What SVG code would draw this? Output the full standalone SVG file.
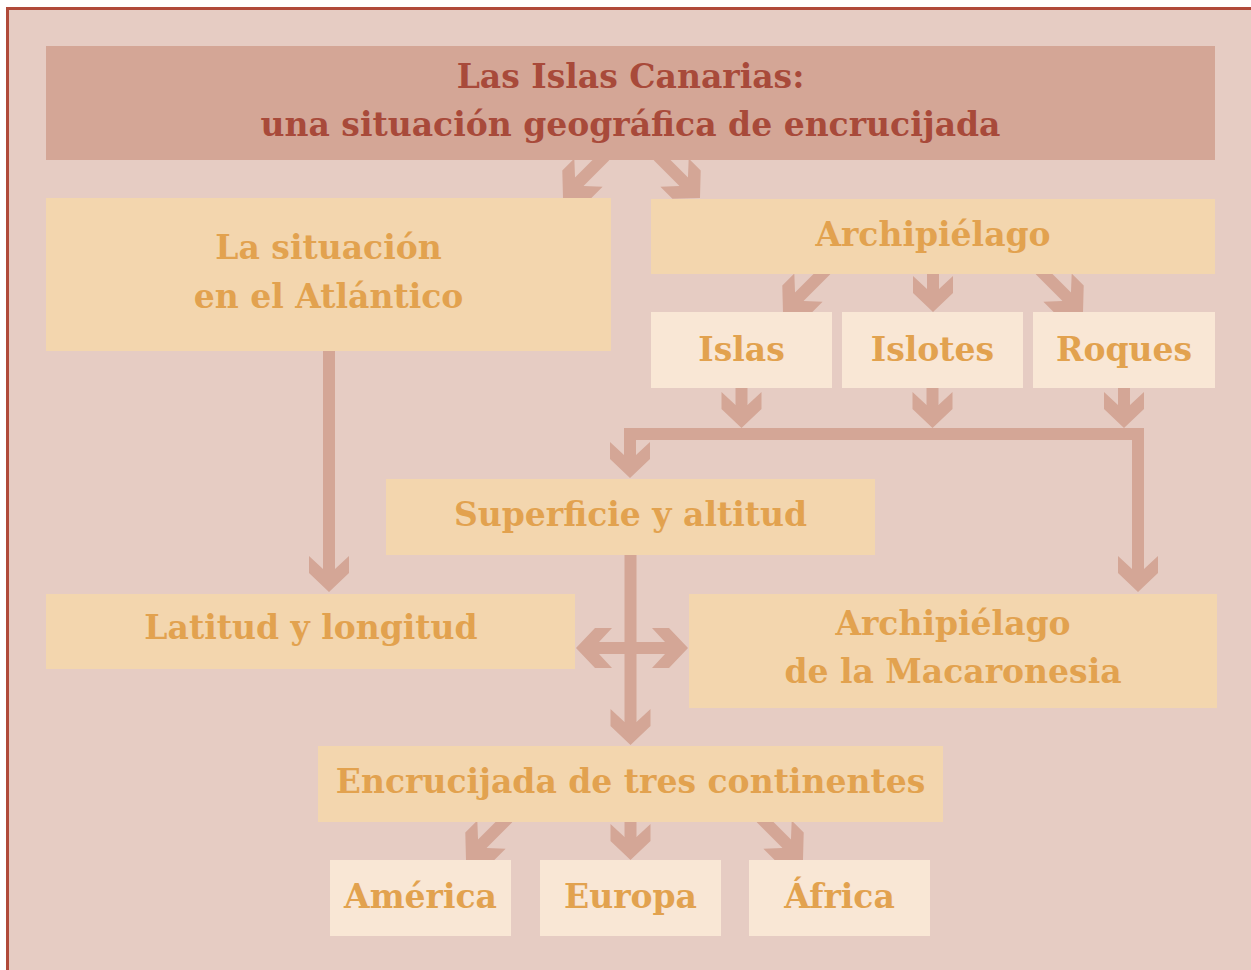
<svg xmlns="http://www.w3.org/2000/svg" xmlns:xlink="http://www.w3.org/1999/xlink" width="1251" height="970" viewBox="0 0 1251 970">
<style>
.bg{fill:#E6CCC3;stroke:#B04A3A;stroke-width:3}
.title{fill:#D4A696}
.box{fill:#F3D6AE}
.lbox{fill:#F9E7D5}
.t{font-family:"DejaVu Serif",serif;font-weight:bold;font-size:33px;text-anchor:middle}
.tt{fill:#A84A3A}
.to{fill:#E2A24F}
.sh{stroke:#D4A696;stroke-width:12;fill:none;stroke-linecap:butt}
.hd{fill:#D4A696}
</style>
<defs>
<path id="ah" d="M-6,-23 L-20,-36 L-20,-19 L0,0 L20,-19 L20,-36 L6,-23 Z"/>
</defs>
<rect class="bg" x="7.5" y="8.5" width="1250" height="970"/>
<g id="connectors">
<path class="sh" d="M605,156 L577,184"/>
<use href="#ah" class="hd" transform="translate(563,198) rotate(45)"/>
<path class="sh" d="M658,156 L686,184"/>
<use href="#ah" class="hd" transform="translate(700,198) rotate(-45)"/>
<path class="sh" d="M826,270 L797,299"/>
<use href="#ah" class="hd" transform="translate(783,313) rotate(45)"/>
<path class="sh" d="M933,272 L933,292"/>
<use href="#ah" class="hd" transform="translate(933,312)"/>
<path class="sh" d="M1040,270 L1069,299"/>
<use href="#ah" class="hd" transform="translate(1083,313) rotate(-45)"/>
<path class="sh" d="M741.5,386 L741.5,410"/>
<use href="#ah" class="hd" transform="translate(741.5,428)"/>
<path class="sh" d="M932.5,386 L932.5,410"/>
<use href="#ah" class="hd" transform="translate(932.5,428)"/>
<path class="sh" d="M1124,386 L1124,410"/>
<use href="#ah" class="hd" transform="translate(1124,428)"/>
<path class="sh" d="M630,460 L630,434 L1138,434 L1138,575"/>
<use href="#ah" class="hd" transform="translate(630,478)"/>
<use href="#ah" class="hd" transform="translate(1138,592)"/>
<path class="sh" d="M329,349 L329,575"/>
<use href="#ah" class="hd" transform="translate(329,592)"/>
<path class="sh" d="M630.5,553 L630.5,728"/>
<use href="#ah" class="hd" transform="translate(630.5,745)"/>
<path class="sh" d="M592,648 L672,648"/>
<use href="#ah" class="hd" transform="translate(576,648) rotate(90)"/>
<use href="#ah" class="hd" transform="translate(688,648) rotate(-90)"/>
<path class="sh" d="M508,818 L480,846"/>
<use href="#ah" class="hd" transform="translate(466,860) rotate(45)"/>
<path class="sh" d="M630.5,820 L630.5,842"/>
<use href="#ah" class="hd" transform="translate(630.5,860)"/>
<path class="sh" d="M761,818 L789,846"/>
<use href="#ah" class="hd" transform="translate(803,860) rotate(-45)"/>
</g>
<g id="n-title">
<rect class="title" x="46" y="46" width="1169" height="114"/>
<text class="t tt" x="630.5" y="88">Las Islas Canarias:</text>
<text class="t tt" x="630.5" y="136">una situación geográfica de encrucijada</text>
</g>
<g id="n-situacion">
<rect class="box" x="46" y="198" width="565" height="153"/>
<text class="t to" x="328.5" y="259">La situación</text>
<text class="t to" x="328.5" y="308">en el Atlántico</text>
</g>
<g id="n-archipielago">
<rect class="box" x="651" y="199" width="564" height="75"/>
<text class="t to" x="933" y="246">Archipiélago</text>
</g>
<g id="n-islas">
<rect class="lbox" x="651" y="312" width="181" height="76"/>
<text class="t to" x="741.5" y="361">Islas</text>
</g>
<g id="n-islotes">
<rect class="lbox" x="842" y="312" width="181" height="76"/>
<text class="t to" x="932.5" y="361">Islotes</text>
</g>
<g id="n-roques">
<rect class="lbox" x="1033" y="312" width="182" height="76"/>
<text class="t to" x="1124" y="361">Roques</text>
</g>
<g id="n-superficie">
<rect class="box" x="386" y="479" width="489" height="76"/>
<text class="t to" x="630.5" y="526">Superficie y altitud</text>
</g>
<g id="n-latitud">
<rect class="box" x="46" y="594" width="529" height="75"/>
<text class="t to" x="311" y="639">Latitud y longitud</text>
</g>
<g id="n-macaronesia">
<rect class="box" x="689" y="594" width="528" height="114"/>
<text class="t to" x="953" y="635">Archipiélago</text>
<text class="t to" x="953" y="683">de la Macaronesia</text>
</g>
<g id="n-encrucijada">
<rect class="box" x="318" y="746" width="625" height="76"/>
<text class="t to" x="630.5" y="793">Encrucijada de tres continentes</text>
</g>
<g id="n-america">
<rect class="lbox" x="330" y="860" width="181" height="76"/>
<text class="t to" x="420.5" y="908">América</text>
</g>
<g id="n-europa">
<rect class="lbox" x="540" y="860" width="181" height="76"/>
<text class="t to" x="630.5" y="908">Europa</text>
</g>
<g id="n-africa">
<rect class="lbox" x="749" y="860" width="181" height="76"/>
<text class="t to" x="839.5" y="908">África</text>
</g>
</svg>
